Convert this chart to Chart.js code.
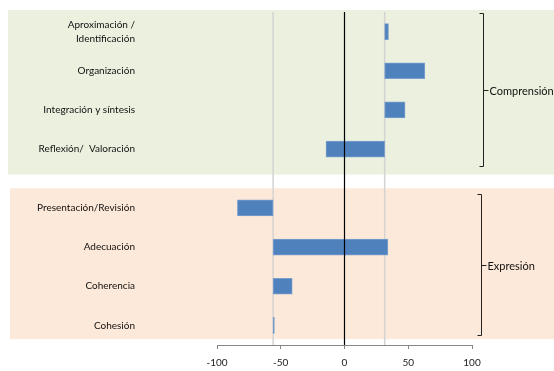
<!DOCTYPE html>
<html>
<head>
<meta charset="utf-8">
<script src="https://cdn.jsdelivr.net/npm/chart.js@4"></script>
<style>
  body { margin: 0; background: #fff; }
  #wrap { width: 554px; height: 371px; position: relative; }
</style>
</head>
<body>
<div id="wrap"><canvas id="chart"></canvas></div>
<script>
// categorías por bloque
const comprensionLabels = [['Aproximación /', 'Identificación'], 'Organización', 'Integración y síntesis', 'Reflexión/  Valoración'];
const expresionLabels = ['Presentación/Revisión', 'Adecuación', 'Coherencia', 'Cohesión'];
// línea de base de cada bloque y extremo de cada barra
const comprensionBase = 31.5;
const comprensionValues = [34.5, 63, 47.5, -14.5];
const expresionBase = -56;
const expresionValues = [-84, 34, -41, -55];
// eje x
const xTicks = [-100, -50, 0, 50, 100];
const groupNames = ['Comprensión', 'Expresión'];

// filas: huecos entre categorías
const rowLabels = [''];
const rowData = [null];
comprensionLabels.forEach((l, i) => {
    rowLabels.push(l, '');
    rowData.push([comprensionBase, comprensionValues[i]], null);
});
rowLabels.push('');
rowData.push(null);
expresionLabels.forEach((l, i) => {
    rowLabels.push(l, '');
    rowData.push([expresionBase, expresionValues[i]], null);
});

const FONT = 'Lato';

const decor = {
    id: 'decor',
    beforeDraw(chart) {
        const { ctx, scales: { x, y } } = chart;
        ctx.save();
        // bandas de fondo
        ctx.fillStyle = '#EBF0DF';
        const g0 = y.getPixelForValue(-0.1), g1 = y.getPixelForValue(8.3);
        ctx.fillRect(8, g0, chart.width - 8, g1 - g0);
        ctx.fillStyle = '#FDE9D9';
        const p0 = y.getPixelForValue(9.0), p1 = y.getPixelForValue(16.7);
        ctx.fillRect(10, p0, chart.width - 10, p1 - p0);
        ctx.restore();
    },
    beforeDatasetsDraw(chart) {
        const { ctx, chartArea, scales: { x } } = chart;
        ctx.save();
        ctx.strokeStyle = '#D3D3D3';
        ctx.lineWidth = 1.5;
        [expresionBase, comprensionBase].forEach(v => {
            const px = x.getPixelForValue(v);
            ctx.beginPath();
            ctx.moveTo(px, chartArea.top);
            ctx.lineTo(px, chartArea.bottom);
            ctx.stroke();
        });
        ctx.restore();
    },
    afterDatasetsDraw(chart) {
        const { ctx, chartArea, scales: { x, y } } = chart;
        ctx.save();
        // línea del cero
        const zx = x.getPixelForValue(0);
        ctx.strokeStyle = '#000';
        ctx.lineWidth = 1.2;
        ctx.beginPath();
        ctx.moveTo(zx, chartArea.top);
        ctx.lineTo(zx, chartArea.bottom);
        ctx.stroke();

        // llaves de grupo
        const brackets = [
            { x: 483, top: 0.05, bottom: 7.85, name: groupNames[0] },
            { x: 481, top: 9.3, bottom: 16.5, name: groupNames[1] }
        ];
        ctx.strokeStyle = '#222';
        ctx.lineWidth = 1;
        ctx.fillStyle = '#111';
        ctx.font = '11px ' + FONT;
        ctx.textBaseline = 'middle';
        brackets.forEach(b => {
            const t = Math.round(y.getPixelForValue(b.top)) + 0.5;
            const bt = Math.round(y.getPixelForValue(b.bottom)) + 0.5;
            const m = Math.round((t + bt) / 2) + 0.5;
            const bx = b.x + 0.5;
            ctx.beginPath();
            ctx.moveTo(bx - 4, t);
            ctx.lineTo(bx, t);
            ctx.lineTo(bx, bt);
            ctx.lineTo(bx - 4, bt);
            ctx.moveTo(bx, m);
            ctx.lineTo(bx + 5, m);
            ctx.stroke();
            ctx.fillText(b.name, bx + 6, m + 1);
        });
        ctx.restore();
    }
};

new Chart(document.getElementById('chart'), {
    type: 'bar',
    data: {
        labels: rowLabels,
        datasets: [{
            data: rowData,
            backgroundColor: '#4F81BD',
            borderColor: '#7A9FCC',
            borderWidth: 1,
            borderSkipped: false,
            barThickness: 16
        }]
    },
    options: {
        indexAxis: 'y',
        responsive: true,
        maintainAspectRatio: false,
        animation: false,
        layout: { padding: { top: 12, right: 82, left: 0, bottom: 0 } },
        plugins: {
            legend: { display: false },
            tooltip: { enabled: false }
        },
        scales: {
            x: {
                min: -100,
                max: 100,
                afterBuildTicks: s => { s.ticks = xTicks.map(v => ({ value: v })); },
                afterFit: s => { s.height = 26; s.paddingLeft = 0; s.paddingRight = 0; },
                grid: { drawOnChartArea: false, drawTicks: true, tickLength: 4, color: '#868686' },
                border: { color: '#868686' },
                ticks: { color: '#222', padding: 8, font: { family: FONT, size: 10 } }
            },
            y: {
                offset: false,
                afterFit: s => { s.width = 217; s.paddingTop = 0; s.paddingBottom = 0; },
                grid: { display: false, drawTicks: false },
                border: { display: false },
                ticks: {
                    autoSkip: false,
                    padding: 82,
                    color: '#111',
                    font: { family: FONT, size: 10, lineHeight: 1.4 }
                }
            }
        }
    },
    plugins: [decor]
});
</script>
</body>
</html>
